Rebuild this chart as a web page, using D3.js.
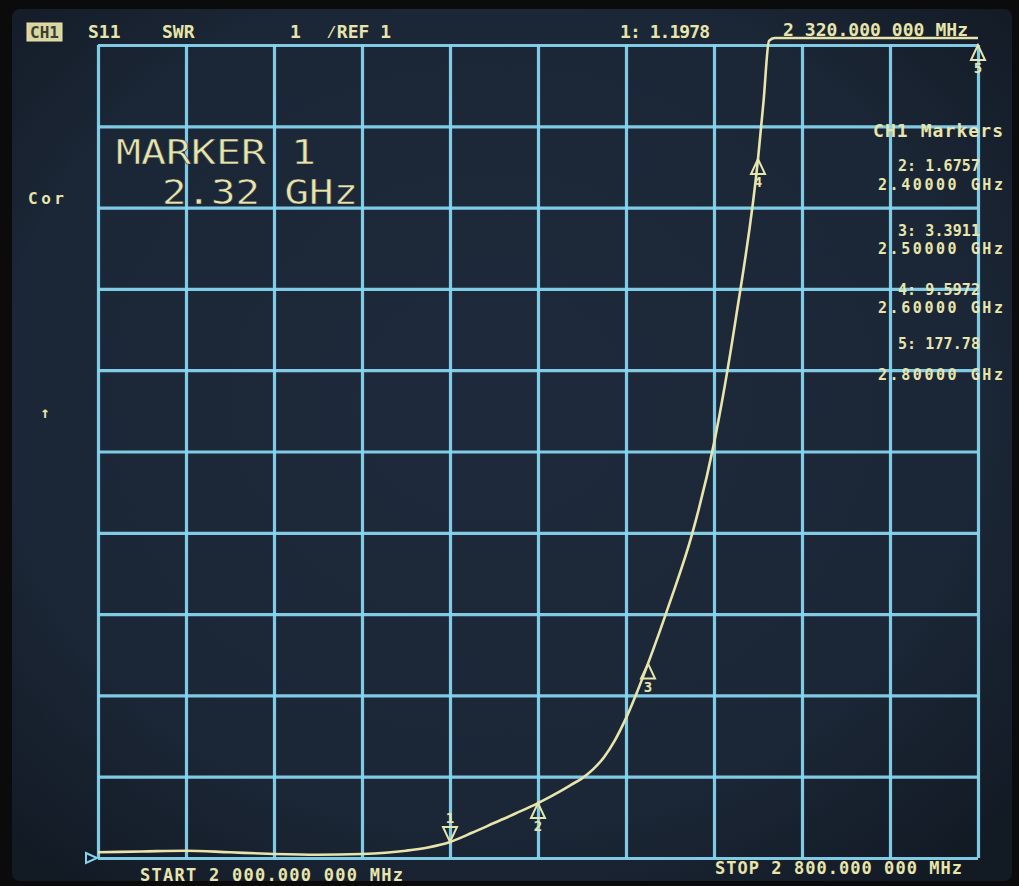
<!DOCTYPE html>
<html>
<head>
<meta charset="utf-8">
<script src="https://cdn.jsdelivr.net/npm/d3@7"></script>
<style>
  html, body { margin: 0; padding: 0; background: #0b0b0c; }
  svg { display: block; }
  text { font-family: "DejaVu Sans Mono", "Liberation Mono", monospace; }
</style>
</head>
<body>
<svg id="chart" width="1019" height="886"></svg>
<script>
// S11 SWR sweep, 2.0 – 2.8 GHz
const freqGHz = [2.00, 2.04, 2.08, 2.12, 2.16, 2.20, 2.24, 2.28, 2.30, 2.32, 2.34, 2.36, 2.38, 2.40,
                 2.42, 2.43, 2.44, 2.45, 2.46, 2.47, 2.48, 2.49, 2.50, 2.52, 2.54, 2.56, 2.58, 2.60,
                 2.605, 2.61, 2.615, 2.62, 2.64, 2.68, 2.72, 2.76, 2.80];
const swr     = [1.07, 1.08, 1.09, 1.07, 1.05, 1.04, 1.05, 1.09, 1.13, 1.1978, 1.31, 1.43, 1.55, 1.6757,
                 1.82, 1.90, 1.98, 2.09, 2.24, 2.45, 2.72, 3.04, 3.3911, 4.15, 4.98, 6.1, 7.65, 9.5972,
                 10.3, 11.05, 11.8, 12.6, 17.0, 30.0, 55.0, 100.0, 177.78];

// Markers
const markerIds   = [1, 2, 3, 4, 5];
const markerFreqs = [2.32, 2.40, 2.50, 2.60, 2.80];
const markerVals  = [1.1978, 1.6757, 3.3911, 9.5972, 177.78];
const activeMarker = 1;

// Axis settings: 1 unit/div, reference 1, 10 divisions each way
const freqStart = 2.0, freqStop = 2.8;
const refValue = 1, scalePerDiv = 1, divisions = 10;

// Annotation texts
const headerLeft = ["S11", "SWR", "1", "\u2044REF 1"];
const activeReadout = "1: 1.1978";
const activeFreq = "2 320.000 000 MHz";
const markerListTitle = "CH1 Markers";
const bigReadout = ["MARKER 1", "2.32 GHz"];
const startLabel = "START 2 000.000 000 MHz";
const stopLabel = "STOP 2 800.000 000 MHz";

const svg = d3.select("#chart");
const W = 1019, H = 886;
const yellow = "#e8e5ac";
const gridCol = "#86d4ee";

// screen background
const defs = svg.append("defs");
const rg = defs.append("radialGradient").attr("id", "scr").attr("cx", "48%").attr("cy", "45%").attr("r", "70%");
rg.append("stop").attr("offset", "0%").attr("stop-color", "#1e2a3b");
rg.append("stop").attr("offset", "70%").attr("stop-color", "#1b2636");
rg.append("stop").attr("offset", "100%").attr("stop-color", "#121a24");
svg.append("rect").attr("width", W).attr("height", H).attr("fill", "#0b0b0c");
svg.append("rect").attr("x", 12).attr("y", 9).attr("width", 1000).attr("height", 872)
  .attr("rx", 8).attr("fill", "url(#scr)");

const plotL = 98, plotR = 978, plotT = 45, plotB = 858;
const x = d3.scaleLinear().domain([freqStart, freqStop]).range([plotL, plotR]);
const y = d3.scaleLinear().domain([refValue, refValue + scalePerDiv * divisions]).range([plotB, plotT]);

// graticule
const xTicks = d3.range(divisions + 1).map(i => freqStart + i * (freqStop - freqStart) / divisions);
const yTicks = d3.range(divisions + 1).map(i => refValue + i * scalePerDiv);
const xAxis = d3.axisBottom(x).tickValues(xTicks).tickSize(-(plotB - plotT)).tickFormat("");
const yAxis = d3.axisLeft(y).tickValues(yTicks).tickSize(-(plotR - plotL)).tickFormat("");
const gx = svg.append("g").attr("transform", `translate(0,${plotB})`).call(xAxis);
const gy = svg.append("g").attr("transform", `translate(${plotL},0)`).call(yAxis);
[gx, gy].forEach(g => {
  g.select(".domain").remove();
  g.selectAll(".tick line").attr("stroke", gridCol).attr("stroke-width", 3.2).attr("stroke-opacity", 0.95);
});

// trace, held just above the top graticule line when off scale
const topClip = y.range()[1] - 7;
const pts = freqGHz.map((f, i) => [x(f), Math.max(y(swr[i]), topClip)]);
const line = d3.line().curve(d3.curveMonotoneX);
svg.append("path").attr("d", line(pts)).attr("fill", "none")
  .attr("stroke", yellow).attr("stroke-width", 2.6).attr("stroke-linejoin", "round");

// markers: triangle with tip on the trace; the active one sits above it
const mg = svg.append("g").attr("fill", yellow);
markerIds.forEach((id, i) => {
  const mx = x(markerFreqs[i]);
  const my = Math.max(y(markerVals[i]), plotT);
  const up = id === activeMarker ? -1 : 1;
  mg.append("path")
    .attr("d", `M${mx},${my} L${mx - 7},${my + 15 * up} L${mx + 7},${my + 15 * up} Z`)
    .attr("fill", "none").attr("stroke", yellow).attr("stroke-width", 2);
  mg.append("text").attr("x", mx).attr("y", up > 0 ? my + 28 : my - 19).attr("text-anchor", "middle")
    .attr("font-size", 14).attr("font-weight", "bold").text(id);
});

// reference position indicator at left bottom
svg.append("path").attr("d", `M${plotL - 12},${plotB - 5} L${plotL - 1},${plotB} L${plotL - 12},${plotB + 5} Z`)
  .attr("fill", "none").attr("stroke", gridCol).attr("stroke-width", 2);

// header
const hdr = svg.append("g").attr("font-size", 18).attr("font-weight", "bold").attr("fill", yellow);
svg.append("rect").attr("x", 27).attr("y", 23).attr("width", 35).attr("height", 18)
  .attr("fill", "#d9d6a0").attr("stroke", yellow);
svg.append("text").attr("x", 44.5).attr("y", 38).attr("text-anchor", "middle").attr("font-size", 16)
  .attr("font-weight", "bold").attr("fill", "#3a3d33").text("CH1");
const hdrX = [88, 162, 290, 326];
headerLeft.forEach((t, i) => hdr.append("text").attr("x", hdrX[i]).attr("y", 38).text(t));
hdr.append("text").attr("x", 620).attr("y", 38).attr("textLength", 90).text(activeReadout);
hdr.append("text").attr("x", 783).attr("y", 36).attr("textLength", 185).text(activeFreq);

// active marker readout
const big = svg.append("g").attr("font-size", 34).attr("fill", yellow)
  .attr("stroke", "#1b2636").attr("stroke-width", 0.5);
big.append("text").attr("x", 116).attr("y", 164).attr("textLength", 200)
  .attr("lengthAdjust", "spacingAndGlyphs").text(bigReadout[0]);
big.append("text").attr("x", 162).attr("y", 204).attr("textLength", 196)
  .attr("lengthAdjust", "spacingAndGlyphs").text(bigReadout[1]);

// side labels
svg.append("text").attr("x", 28).attr("y", 204).attr("font-size", 16).attr("font-weight", "bold")
  .attr("textLength", 36).attr("fill", yellow).text("Cor");
svg.append("text").attr("x", 45).attr("y", 418).attr("font-size", 16).attr("font-weight", "bold")
  .attr("text-anchor", "middle").attr("fill", yellow).text("\u2191");

// marker table on the right
const tbl = svg.append("g").attr("font-size", 15).attr("font-weight", "bold").attr("fill", yellow);
tbl.append("text").attr("x", 873).attr("y", 137).attr("font-size", 18).attr("textLength", 130).text(markerListTitle);
const rowY = [[171, 190], [236, 254], [295, 313], [349, 380]];
markerIds.slice(1).forEach((id, i) => {
  const v = markerVals[i + 1];
  const vs = v >= 100 ? v.toFixed(2) : v.toFixed(4);
  tbl.append("text").attr("x", 898).attr("y", rowY[i][0]).attr("textLength", 82).text(`${id}: ${vs}`);
  tbl.append("text").attr("x", 878).attr("y", rowY[i][1]).attr("textLength", 125)
    .text(`${markerFreqs[i + 1].toFixed(5)} GHz`);
});

// sweep limits
const ft = svg.append("g").attr("font-size", 17).attr("font-weight", "bold").attr("fill", yellow);
ft.append("text").attr("x", 140).attr("y", 881).attr("textLength", 263).text(startLabel);
ft.append("text").attr("x", 715).attr("y", 874).attr("textLength", 247).text(stopLabel);
</script>
</body>
</html>
